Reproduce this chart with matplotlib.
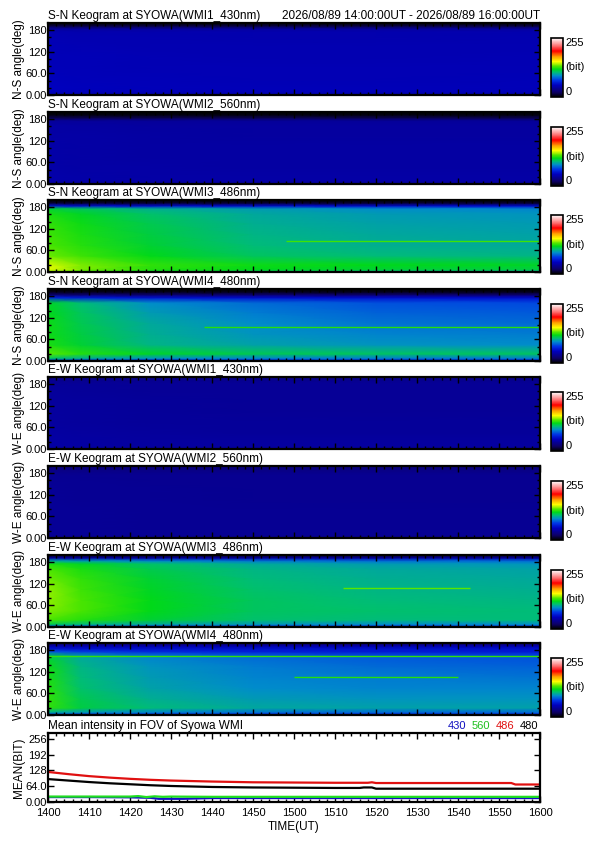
import numpy as np
import matplotlib
matplotlib.use('Agg')
import matplotlib.pyplot as plt
from matplotlib.colors import LinearSegmentedColormap, Normalize
from matplotlib.ticker import MultipleLocator

plt.rcParams['font.family'] = ['Liberation Sans', 'DejaVu Sans']

# ---- keogram data (counts 0-255) ----
# columns: minutes after 14:00 UT, rows: angle (deg) bottom to top
kg_time = [0, 8, 25, 50, 80, 120]
kg_angle = [0, 8, 20, 45, 75, 105, 135, 162, 176, 184, 192, 200]

sn_430 = [
    [42, 42, 41, 41, 41, 41],
    [50, 49, 48, 48, 48, 48],
    [51, 50, 49, 48, 48, 49],
    [50, 49, 48, 47, 47, 48],
    [49, 48, 47, 47, 47, 47],
    [48, 48, 47, 46, 46, 47],
    [48, 47, 46, 46, 46, 46],
    [47, 46, 46, 45, 45, 46],
    [46, 45, 45, 45, 45, 45],
    [40, 40, 40, 40, 40, 40],
    [14, 14, 14, 14, 14, 14],
    [2, 2, 2, 2, 2, 2],
]
sn_560 = [
    [38, 38, 38, 38, 38, 38],
    [44, 43, 42, 42, 42, 42],
    [44, 43, 42, 42, 42, 42],
    [43, 42, 42, 41, 41, 41],
    [43, 42, 41, 41, 41, 41],
    [43, 42, 41, 41, 41, 41],
    [42, 42, 41, 40, 40, 40],
    [42, 41, 40, 40, 40, 40],
    [38, 38, 38, 38, 38, 38],
    [16, 16, 16, 16, 16, 16],
    [4, 4, 4, 4, 4, 4],
    [0, 0, 0, 0, 0, 0],
]
sn_486 = [
    [140, 130, 118, 110, 104, 100],
    [150, 138, 126, 120, 116, 114],
    [148, 138, 128, 122, 120, 118],
    [136, 130, 120, 110, 106, 104],
    [132, 126, 116, 106, 102, 100],
    [130, 124, 114, 104, 100, 98],
    [128, 122, 112, 102, 98, 96],
    [124, 118, 108, 100, 96, 94],
    [116, 110, 102, 96, 92, 90],
    [60, 58, 56, 56, 56, 56],
    [10, 10, 10, 10, 10, 10],
    [0, 0, 0, 0, 0, 0],
]
sn_480 = [
    [60, 58, 56, 56, 56, 56],
    [110, 102, 94, 90, 88, 88],
    [134, 126, 118, 112, 110, 110],
    [124, 116, 104, 98, 94, 92],
    [122, 114, 102, 94, 90, 88],
    [122, 112, 100, 92, 86, 84],
    [120, 110, 96, 88, 82, 80],
    [118, 106, 92, 84, 78, 76],
    [66, 62, 58, 56, 56, 56],
    [25, 25, 25, 25, 25, 25],
    [6, 6, 6, 6, 6, 6],
    [0, 0, 0, 0, 0, 0],
]
ew_430 = [
    [36, 36, 35, 35, 35, 35],
    [42, 41, 40, 40, 40, 40],
    [42, 41, 40, 40, 40, 40],
    [41, 40, 39, 38, 38, 38],
    [40, 39, 38, 38, 38, 38],
    [40, 39, 38, 37, 37, 37],
    [39, 39, 38, 37, 37, 37],
    [39, 38, 37, 37, 37, 37],
    [38, 38, 37, 37, 37, 37],
    [37, 37, 37, 37, 37, 37],
    [34, 34, 34, 34, 34, 34],
    [30, 30, 30, 30, 30, 30],
]
ew_560 = [
    [32, 32, 32, 32, 32, 32],
    [37, 37, 36, 36, 36, 36],
    [37, 37, 36, 36, 36, 36],
    [37, 37, 36, 36, 36, 36],
    [37, 37, 36, 36, 36, 36],
    [37, 36, 36, 35, 35, 35],
    [37, 36, 36, 35, 35, 35],
    [36, 36, 35, 35, 35, 35],
    [35, 35, 35, 35, 35, 35],
    [33, 33, 33, 33, 33, 33],
    [30, 30, 30, 30, 30, 30],
    [26, 26, 26, 26, 26, 26],
]
ew_486 = [
    [70, 68, 66, 64, 64, 64],
    [112, 106, 100, 95, 92, 92],
    [132, 126, 116, 108, 106, 106],
    [138, 132, 120, 110, 108, 106],
    [140, 132, 120, 110, 106, 104],
    [140, 130, 118, 108, 104, 102],
    [136, 128, 116, 106, 102, 100],
    [132, 124, 112, 104, 100, 98],
    [124, 118, 108, 100, 96, 94],
    [100, 96, 90, 86, 84, 84],
    [40, 40, 40, 40, 40, 40],
    [10, 10, 10, 10, 10, 10],
]
ew_480 = [
    [64, 62, 60, 58, 58, 58],
    [102, 96, 90, 86, 84, 84],
    [128, 114, 106, 100, 98, 98],
    [128, 112, 102, 96, 94, 94],
    [126, 108, 98, 92, 90, 90],
    [124, 106, 96, 90, 88, 86],
    [122, 104, 94, 88, 84, 82],
    [115, 100, 90, 84, 80, 78],
    [80, 74, 68, 64, 62, 62],
    [60, 58, 58, 58, 58, 58],
    [45, 45, 45, 45, 45, 45],
    [20, 20, 20, 20, 20, 20],
]

# thin bright streaks: (angle, t_start, t_end, counts)
streaks = {
    2: [(87, 58, 120, 130)],
    3: [(94, 38, 120, 126)],
    6: [(108, 72, 103, 134)],
    7: [(164, 0, 120, 128), (106, 60, 100, 126)],
}

panel_titles = [
    'S-N Keogram at SYOWA(WMI1_430nm)',
    'S-N Keogram at SYOWA(WMI2_560nm)',
    'S-N Keogram at SYOWA(WMI3_486nm)',
    'S-N Keogram at SYOWA(WMI4_480nm)',
    'E-W Keogram at SYOWA(WMI1_430nm)',
    'E-W Keogram at SYOWA(WMI2_560nm)',
    'E-W Keogram at SYOWA(WMI3_486nm)',
    'E-W Keogram at SYOWA(WMI4_480nm)',
]
panel_ylabels = ['N-S angle(deg)'] * 4 + ['W-E angle(deg)'] * 4
panel_grids = [sn_430, sn_560, sn_486, sn_480, ew_430, ew_560, ew_486, ew_480]
time_range = '2026/08/89 14:00:00UT - 2026/08/89 16:00:00UT'

kg_yticks = [0, 60, 120, 180]
kg_ytick_labels = ['0.00', '60.0', '120', '180']

# ---- mean intensity in FOV ----
t_430 = [0, 10, 20, 25, 27, 33, 40, 60, 80, 100, 120]
mean_430 = [20, 20, 19, 17, 13, 13, 16, 16, 16, 16, 16]
t_560 = [0, 10, 20, 22, 24, 26, 28, 30, 40, 60, 80, 100, 120]
mean_560 = [22, 22, 22, 24, 20, 23, 21, 22, 21, 21, 21, 21, 21]
t_486 = [0, 5, 10, 15, 20, 25, 30, 40, 50, 60, 70, 78, 79, 80, 90, 100, 110, 113, 114, 120]
mean_486 = [122, 113, 105, 99, 94, 90, 87, 83, 80, 79, 78, 78, 80, 77, 77, 77, 77, 77, 71, 71]
t_480 = [0, 5, 10, 15, 20, 25, 30, 40, 50, 60, 70, 76, 77, 79, 80, 90, 100, 110, 120]
mean_480 = [93, 87, 81, 76, 72, 68, 65, 61, 59, 58, 57, 57, 59, 59, 54, 54, 54, 54, 54]

mean_yticks = [0, 64, 128, 192, 256]
mean_ytick_labels = ['0.00', '64.0', '128', '192', '256']
xtick_minutes = [0, 10, 20, 30, 40, 50, 60, 70, 80, 90, 100, 110, 120]
xtick_labels = ['1400', '1410', '1420', '1430', '1440', '1450', '1500',
                '1510', '1520', '1530', '1540', '1550', '1600']
legend_names = ['430', '560', '486', '480']

# IDL-like rainbow + white
cmap = LinearSegmentedColormap.from_list('rainbow_white', [
    (0.00, (0, 0, 0)),
    (0.08, (0.05, 0, 0.4)),
    (0.20, (0, 0, 0.75)),
    (0.28, (0, 0.2, 0.9)),
    (0.36, (0, 0.55, 0.8)),
    (0.42, (0, 0.75, 0.45)),
    (0.47, (0, 0.85, 0.1)),
    (0.52, (0.3, 0.9, 0)),
    (0.60, (1, 1, 0)),
    (0.68, (1, 0.65, 0)),
    (0.78, (1, 0, 0)),
    (0.88, (1, 0.5, 0.5)),
    (1.00, (1, 1, 1)),
])
norm = Normalize(0, 255)

FW, FH = 595, 842
fig = plt.figure(figsize=(FW / 100, FH / 100), dpi=100)
L, R = 48, 540
ax_w = (R - L) / FW


def style_axes(ax):
    for s in ax.spines.values():
        s.set_linewidth(1.6)
    ax.tick_params(which='both', direction='in', top=True, right=True,
                   labelsize=8, pad=1, width=1)
    ax.tick_params(which='major', length=4)
    ax.tick_params(which='minor', length=2.5)


tt, aa = np.meshgrid(kg_time, kg_angle)
for i, grid in enumerate(panel_grids):
    top = round(23 + i * 88.6)
    ax = fig.add_axes([L / FW, 1 - (top + 72) / FH, ax_w, 72 / FH])
    mesh = ax.pcolormesh(tt, aa, np.array(grid), cmap=cmap, norm=norm,
                         shading='gouraud', rasterized=True)
    for ang, t0, t1, val in streaks.get(i, []):
        ax.hlines(ang, t0, t1, color=cmap(norm(val)), lw=1.0)
    ax.set_xlim(0, 120)
    ax.set_ylim(0, 200)
    ax.set_yticks(kg_yticks)
    ax.set_yticklabels(kg_ytick_labels)
    ax.yaxis.set_minor_locator(MultipleLocator(20))
    ax.set_xticks(xtick_minutes)
    ax.set_xticklabels([])
    ax.xaxis.set_minor_locator(MultipleLocator(2))
    style_axes(ax)
    fig.text(L / FW, 1 - (top - 4) / FH, panel_titles[i], ha='left',
             va='baseline', fontsize=8.5)
    if i == 0:
        fig.text(R / FW, 1 - (top - 4) / FH, time_range, ha='right',
                 va='baseline', fontsize=8.5)
    fig.text(19 / FW, 1 - (top + 36) / FH, panel_ylabels[i], rotation=90,
             ha='center', va='center', fontsize=8.5)

    cax = fig.add_axes([551 / FW, 1 - (top + 74) / FH, 12 / FW, 59 / FH])
    cb = fig.colorbar(mesh, cax=cax)
    cb.set_ticks([])
    cb.outline.set_linewidth(1.2)
    cax.text(1.2, 1.0, '255', transform=cax.transAxes, ha='left', va='top', fontsize=8)
    cax.text(1.2, 0.5, '(bit)', transform=cax.transAxes, ha='left', va='center', fontsize=8)
    cax.text(1.2, 0.0, '0', transform=cax.transAxes, ha='left', va='bottom', fontsize=8)

# mean intensity panel
top, bot = 733, 802
ax = fig.add_axes([L / FW, 1 - bot / FH, ax_w, (bot - top) / FH])
ax.plot(t_430, mean_430, color='#1010c0', lw=1.6)
ax.plot(t_560, mean_560, color='#20e020', lw=1.6)
ax.plot(t_486, mean_486, color='#e01010', lw=1.6)
ax.plot(t_480, mean_480, color='black', lw=1.6)
ax.set_xlim(0, 120)
ax.set_ylim(0, 280)
ax.set_yticks(mean_yticks)
ax.set_yticklabels(mean_ytick_labels)
ax.set_xticks(xtick_minutes)
ax.set_xticklabels(xtick_labels)
ax.xaxis.set_minor_locator(MultipleLocator(2))
style_axes(ax)
ax.tick_params(axis='x', pad=4)
fig.text(L / FW, 1 - 729 / FH, 'Mean intensity in FOV of Syowa WMI',
         ha='left', va='baseline', fontsize=8.5)
leg_colors = ['#1010c0', '#20c020', '#e01010', 'black']
leg_x = [448, 472, 496, 520]
for name, c, x in zip(legend_names, leg_colors, leg_x):
    fig.text(x / FW, 1 - 729 / FH, name, color=c, ha='left', va='baseline', fontsize=8)
fig.text(19 / FW, 1 - 768 / FH, 'MEAN(BIT)', rotation=90, ha='center',
         va='center', fontsize=8.5)
fig.text((L + R) / 2 / FW, 1 - 827 / FH, 'TIME(UT)', ha='center', va='center',
         fontsize=8.5)

fig.savefig('out.png', dpi=100, facecolor='white')
